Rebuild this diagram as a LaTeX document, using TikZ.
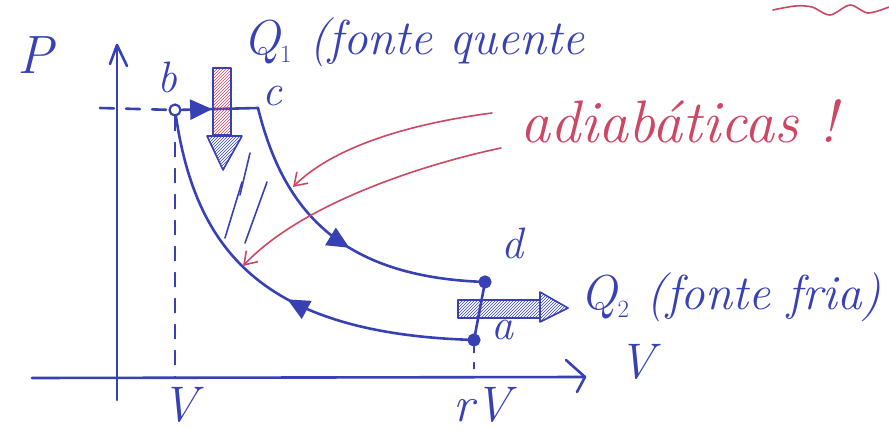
\documentclass[tikz,border=0pt]{standalone}
\usetikzlibrary{arrows.meta,decorations.markings,patterns}
\definecolor{ink}{RGB}{55,65,180}
\definecolor{redink}{RGB}{205,70,100}
\begin{document}
\begin{tikzpicture}[x=1pt,y=-1pt, line cap=round, line join=round,
  pen/.style={draw=ink, line width=2.6pt},
  thinpen/.style={draw=ink, line width=1.6pt},
  redpen/.style={draw=redink, line width=1.6pt},
  lbl/.style={text=ink, font=\fontsize{44}{50}\selectfont\itshape, inner sep=0pt},
  biglbl/.style={lbl, font=\fontsize{49}{55}\selectfont\itshape},
  redlbl/.style={text=redink, font=\fontsize{60}{66}\selectfont\itshape, inner sep=0pt},
  dot/.style={circle, draw=ink, line width=2.2pt, minimum size=11pt, inner sep=0pt},
  fdot/.style={dot, fill=ink},
  midarrow/.style={postaction={decorate}, decoration={markings,
     mark=at position #1 with {\arrow{Triangle[length=22pt,width=20pt]}}}},
  openhead/.style={-{Straight Barb[length=12pt,width=16pt,line width=1.6pt]}}
]
\useasboundingbox (0,0) rectangle (889,430);
% axes
\coordinate (O) at (117,378);
\coordinate (Ptop) at (117,45);
\coordinate (Pbot) at (117,400);
\coordinate (Vleft) at (32,378);
\coordinate (Vright) at (585,377);
\draw[pen] (Pbot) -- (Ptop);
\draw[pen] (110,64) -- (Ptop) -- (127,66);
\draw[pen] (Vleft) -- (Vright);
\draw[pen] (566,360) -- (Vright) -- (577,392);
% states
\node[dot, fill=white] (b) at (175,110) {};
\coordinate (c) at (258,108);
\node[fdot] (d) at (485,282) {};
\node[fdot] (a) at (474,340) {};
\coordinate (ptick) at (100,108);
% paths
\draw[pen, dashed, dash pattern=on 14pt off 12pt] (ptick) -- (b);
\draw[pen, midarrow=0.4] (b) -- (c);
\draw[pen, midarrow=0.56] (c) .. controls (282,205) and (335,275) .. (d);
\draw[pen, midarrow=0.455] (a) .. controls (262,332) and (196,250) .. (b);
\draw[pen] (d) -- (a);
\draw[thinpen, dashed, dash pattern=on 14pt off 12pt] (b) -- (b |- O);
\draw[thinpen, dashed, dash pattern=on 6pt off 10pt] (a) -- (a |- O);
% hatching of the work area
\draw[thinpen] (250,153) -- (240,195);
\draw[thinpen] (242,182) -- (225,238);
\draw[thinpen] (267,182) -- (245,243);
% heat arrows
\draw[thinpen, pattern=north east lines, pattern color=redink] (213,68) rectangle (231,135);
\draw[thinpen, pattern=north east lines, pattern color=ink] (207,136) -- (242,136) -- (223,170) -- cycle;
\draw[thinpen, pattern=north east lines, pattern color=ink] (458,300) rectangle (540,318);
\draw[thinpen, pattern=north east lines, pattern color=ink] (540,292) -- (568,308) -- (540,322) -- cycle;
% labels
\node[lbl, font=\fontsize{54}{60}\selectfont\itshape] (Plbl) at (35,55) {P};
\node[lbl] (blbl) at (167,77) {b};
\node[lbl] (clbl) at (272,96) {c};
\node[lbl] (dlbl) at (512,243) {d};
\node[lbl] (albl) at (502,330) {a};
\node[biglbl, anchor=base] (Q1lbl) at (414,55) {Q$_1$ (fonte quente};
\node[biglbl, anchor=base] (Q2lbl) at (731,310) {Q$_2$ (fonte fria)};
\node[lbl, font=\fontsize{50}{56}\selectfont\itshape] (V1) at (180,405) {V};
\node[lbl, font=\fontsize{50}{56}\selectfont\itshape] (rV) at (482,405) {rV};
\node[lbl, font=\fontsize{50}{56}\selectfont\itshape] (Vax) at (637,362) {V};
\node[redlbl, anchor=base] (adiab) at (679,143) {adiabáticas !};
% red pointers
\coordinate (r1s) at (492,113);
\coordinate (r1e) at (293,187);
\coordinate (r2s) at (501,148);
\coordinate (r2e) at (243,266);
\draw[redpen, openhead] (r1s) .. controls (400,125) and (330,150) .. (r1e);
\draw[redpen, openhead] (r2s) .. controls (420,165) and (300,205) .. (r2e);
% red squiggle
\draw[redpen] plot[smooth] coordinates {(773,10) (795,6) (812,7) (830,15) (850,5) (868,13) (889,7)};
\end{tikzpicture}
\end{document}
